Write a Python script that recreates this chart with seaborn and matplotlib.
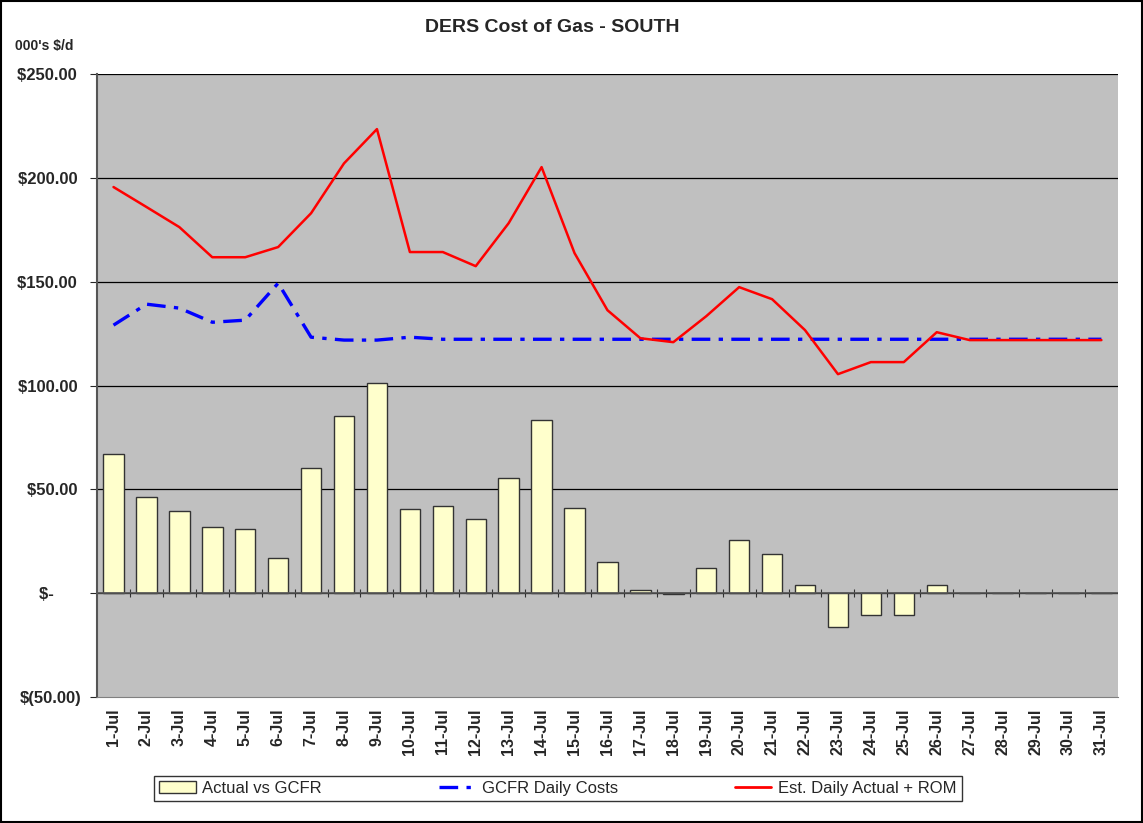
import numpy as np
import pandas as pd
import matplotlib
matplotlib.use('Agg')
import matplotlib.pyplot as plt
import seaborn as sns
from matplotlib.patches import Patch
from matplotlib.lines import Line2D

# Data
days = [f'{d}-Jul' for d in range(1, 32)]
actual_vs_gcfr = [67.0, 46.2, 39.5, 31.8, 30.8, 16.9, 60.2, 85.3, 101.2, 40.5,
                  41.9, 35.6, 55.4, 83.3, 40.9, 14.9, 1.4, -0.5, 12.0, 25.5,
                  18.8, 3.9, -16.4, -10.6, -10.6, 3.9, 0, 0, 0, 0, 0]
gcfr_daily = [129.1, 139.2, 137.3, 130.5, 131.5, 149.3, 123.3, 121.9, 121.9, 123.3,
              122.3, 122.3, 122.3, 122.3, 122.3, 122.3, 122.3, 122.3, 122.3, 122.3,
              122.3, 122.3, 122.3, 122.3, 122.3, 122.3, 122.3, 122.3, 122.3, 122.3, 122.3]
est_actual_rom = [195.6, 186.0, 176.3, 161.8, 161.8, 166.7, 183.0, 207.0, 223.5, 164.3,
                  164.3, 157.5, 178.2, 205.2, 163.8, 136.3, 122.8, 120.9, 133.4, 147.4,
                  141.6, 126.7, 105.5, 111.3, 111.3, 125.7, 121.9, 121.9, 121.9, 121.9, 121.9]
y_ticks = [-50, 0, 50, 100, 150, 200, 250]
y_labels = ['$(50.00)', '$-      ', '$50.00 ', '$100.00 ', '$150.00 ', '$200.00 ', '$250.00 ']

df = pd.DataFrame({'day': days, 'actual': actual_vs_gcfr,
                   'gcfr': gcfr_daily, 'est': est_actual_rom})

sns.set_style('white')
plt.rcParams['font.family'] = ['Liberation Sans', 'DejaVu Sans']

blue_dash = (0, (5.6, 2.5, 1.3, 2.5))

fig = plt.figure(figsize=(11.43, 8.23), dpi=100)
ax = fig.add_axes([0.0849, 0.153, 0.8931, 0.757])
ax.set_facecolor('#C0C0C0')

sns.barplot(data=df, x='day', y='actual', color='#FFFFCC', saturation=1,
            width=0.62, edgecolor='#333333', linewidth=1, ax=ax, zorder=3)
x = np.arange(len(days))
sns.lineplot(x=x, y=df['gcfr'], color='#0000FF', lw=2.4, ax=ax, zorder=4,
             linestyle=blue_dash)
sns.lineplot(x=x, y=df['est'], color='#FF0000', lw=1.8, ax=ax, zorder=5)

ax.set_xlim(-0.5, len(days) - 0.5)
ax.set_ylim(-50, 250)
ax.set_yticks(y_ticks)
ax.set_yticklabels(y_labels, fontsize=12, fontweight='bold')
ax.set_xticks(x)
ax.set_xticklabels(days, rotation=90, fontsize=11.5, fontweight='bold')
ax.tick_params(axis='x', length=0, pad=8)
ax.tick_params(axis='y', length=5, direction='out', left=True, pad=6)
ax.set_xlabel('')
ax.set_ylabel('')

for yv in y_ticks[1:]:
    ax.axhline(yv, color='black', lw=0.9, zorder=1)
ax.axhline(0, color='#555555', lw=1.2, zorder=3)

# tick marks on the category axis at zero
sec = ax.secondary_xaxis(1 / 6)
sec.set_xticks(x[:-1] + 0.5)
sec.set_xticklabels([])
sec.tick_params(length=6, direction='inout', color='#333333')
sec.spines['bottom'].set_visible(False)
sec.spines['top'].set_visible(False)

for s in ['top', 'right']:
    ax.spines[s].set_visible(False)
ax.spines['left'].set_color('#555555')
ax.spines['left'].set_linewidth(1.5)
ax.spines['bottom'].set_color('#808080')

fig.text(0.483, 0.966, 'DERS Cost of Gas - SOUTH', ha='center', va='center',
         fontsize=14, fontweight='bold')
fig.text(0.013, 0.944, "000's $/d", ha='left', va='center', fontsize=10, fontweight='bold')

handles = [Patch(facecolor='#FFFFCC', edgecolor='#333333', label='Actual vs GCFR'),
           Line2D([], [], color='#0000FF', lw=2.4, linestyle=blue_dash,
                  label='GCFR Daily Costs'),
           Line2D([], [], color='#FF0000', lw=2, label='Est. Daily Actual + ROM')]
leg = fig.legend(handles=handles, loc='center', bbox_to_anchor=(0.488, 0.0425),
                 ncol=3, fontsize=12, frameon=True, fancybox=False,
                 edgecolor='black', columnspacing=7, handlelength=2.2,
                 handletextpad=0.4, borderpad=0.3, borderaxespad=0)
leg.get_frame().set_linewidth(1)

fig.patches.append(plt.Rectangle((0.001, 0.001), 0.998, 0.998, transform=fig.transFigure,
                                 fill=False, edgecolor='black', lw=1.5))

plt.savefig('out.png', dpi=100)
plt.close()
